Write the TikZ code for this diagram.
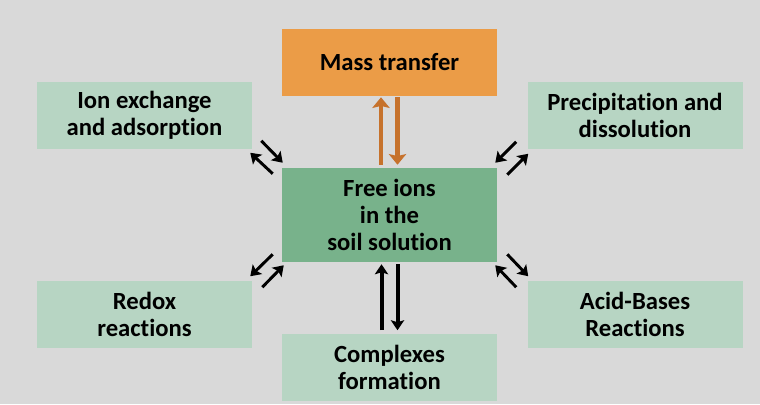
\documentclass[tikz,border=0pt]{standalone}
\usepackage{fontspec}
\setmainfont{Carlito}[Ligatures=NoCommon]
\usepackage{xcolor}
\usetikzlibrary{arrows.meta,calc}

\definecolor{bggray}{HTML}{D9D9D9}
\definecolor{massorange}{HTML}{EB9C47}
\definecolor{arroworange}{HTML}{C6722C}
\definecolor{lightgreen}{HTML}{B7D5C3}
\definecolor{midgreen}{HTML}{78B28B}

\begin{document}
\begin{tikzpicture}[x=0.75pt,y=-0.75pt,
  box/.style={minimum width=161.25pt,minimum height=50.25pt,inner sep=0pt,
    align=center,font=\fontsize{18.5}{20.25}\selectfont\bfseries},
  rxn/.style={-{Stealth[length=7.5pt,width=10pt,inset=1.5pt]},line width=2.2pt},
  vrxn/.style={-{Stealth[length=7.5pt,width=10pt,inset=1.5pt]},line width=3pt},
  mrxn/.style={-{Stealth[length=8pt,width=13pt,inset=1.5pt]},line width=3.5pt,arroworange}]
% background
\fill[bggray] (0,0) rectangle (760,404);
% boxes
\node[box,fill=massorange] (mass) at (389.5,62) {Mass transfer};
\node[box,fill=lightgreen] (ionex) at (144.5,115) {Ion exchange\\and adsorption};
\node[box,fill=lightgreen] (precip) at (635,115) {Precipitation and\\dissolution};
\node[box,fill=midgreen,minimum height=70.5pt] (free) at (389.5,215) {Free ions\\in the\\soil solution};
\node[box,fill=lightgreen] (redox) at (144.5,314) {Redox\\reactions};
\node[box,fill=lightgreen] (acid) at (635,314) {Acid-Bases\\Reactions};
\node[box,fill=lightgreen] (complex) at (389.5,367) {Complexes\\formation};
% mass transfer
\draw[mrxn] ($(free.north)+(-8.5,-3)$) -- ($(mass.south)+(-8.5,1.5)$);
\draw[mrxn] ($(mass.south)+(8,1.5)$) -- ($(free.north)+(8,-3)$);
% complexes
\draw[vrxn] ($(complex.north)+(-8,-3)$) -- ($(free.south)+(-8,2)$);
\draw[vrxn] ($(free.south)+(8,2)$) -- ($(complex.north)+(8,-3)$);
% ion exchange
\draw[rxn] ($(ionex.south east)+(9,-8)$) -- ($(free.north west)+(1,-5)$);
\draw[rxn] ($(free.north west)+(-9,6)$) -- ($(ionex.south east)+(-2,4)$);
% precipitation
\draw[rxn] ($(precip.south west)+(-11,-7)$) -- ($(free.north east)+(-2,-5)$);
\draw[rxn] ($(free.north east)+(10,7)$) -- ($(precip.south west)+(1,5)$);
% redox
\draw[rxn] ($(free.south west)+(-9,-8)$) -- ($(redox.north east)+(-2,-4)$);
\draw[rxn] ($(redox.north east)+(10,7)$) -- ($(free.south west)+(2,3)$);
% acid-bases
\draw[rxn] ($(free.south east)+(10,-8)$) -- ($(acid.north west)+(1,-4)$);
\draw[rxn] ($(acid.north west)+(-11,7)$) -- ($(free.south east)+(-2,3)$);
\end{tikzpicture}
\end{document}
